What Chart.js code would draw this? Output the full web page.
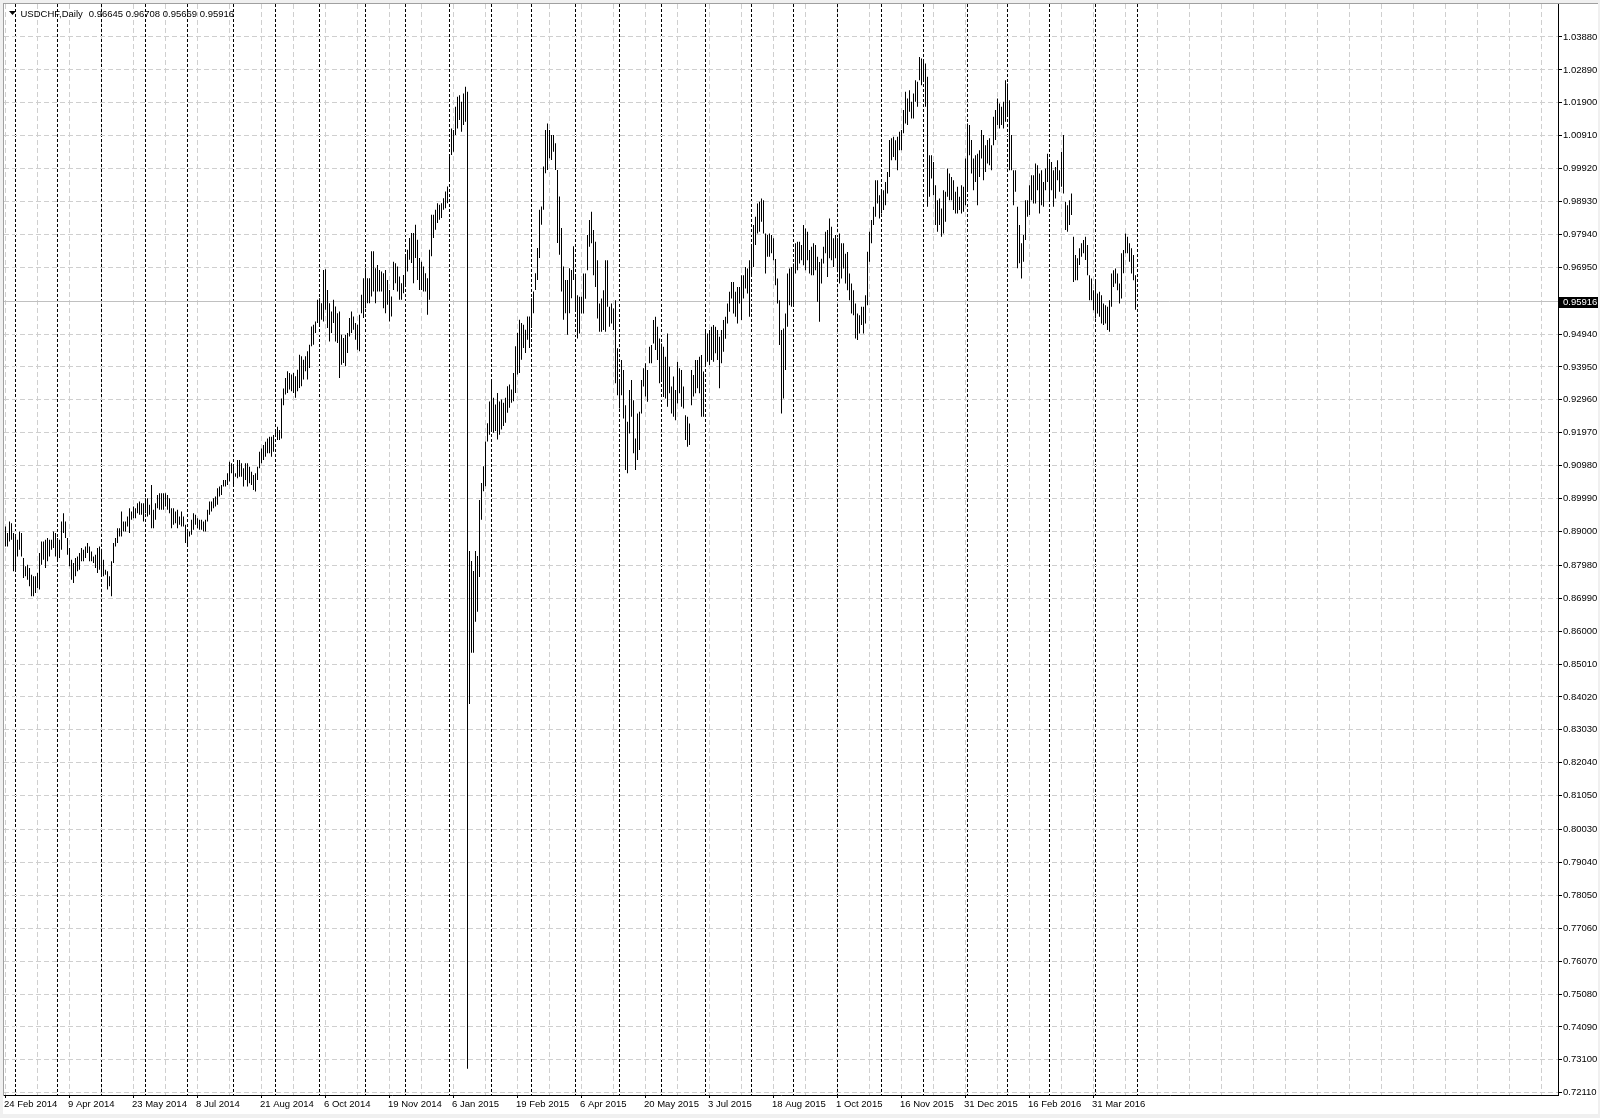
<!DOCTYPE html>
<html><head><meta charset="utf-8">
<script src="https://cdn.jsdelivr.net/npm/chart.js@4.4.1/dist/chart.umd.min.js"></script>
<style>html,body{margin:0;padding:0;background:#fff;overflow:hidden}canvas{display:block}</style>
</head><body>
<canvas id="c" width="1600" height="1118"></canvas>
<script>
const symbolTitle = "USDCHF,Daily";
const lastBarOHLC = [0.96645, 0.96708, 0.95669, 0.95916];
const dateLabels = ["24 Feb 2014","9 Apr 2014","23 May 2014","8 Jul 2014","21 Aug 2014","6 Oct 2014","19 Nov 2014","6 Jan 2015","19 Feb 2015","6 Apr 2015","20 May 2015","3 Jul 2015","18 Aug 2015","1 Oct 2015","16 Nov 2015","31 Dec 2015","16 Feb 2016","31 Mar 2016"];
const labelEvery = 32;
const gridEvery = 16;
const monthStarts = [5,26,48,70,91,114,135,157,180,200,222,243,263,285,307,328,350,373,394,416,438,459,481,501,522,545,566];
const yTickValues = [1.0388,1.0289,1.0190,1.0091,0.9992,0.9893,0.9794,0.9695,0.9494,0.9395,0.9296,0.9197,0.9098,0.8999,0.8900,0.8798,0.8699,0.8600,0.8501,0.8402,0.8303,0.8204,0.8105,0.8003,0.7904,0.7805,0.7706,0.7607,0.7508,0.7409,0.7310,0.7211];
const highs = [
0.8915,0.8895,0.8930,0.8925,0.8895,0.8885,0.8875,0.8900,0.8895,0.8820,
0.8795,0.8800,0.8790,0.8770,0.8765,0.8765,0.8775,0.8835,0.8870,0.8870,
0.8875,0.8880,0.8875,0.8875,0.8900,0.8895,0.8880,0.8875,0.8930,0.8955,
0.8930,0.8880,0.8850,0.8815,0.8805,0.8820,0.8825,0.8835,0.8850,0.8845,
0.8855,0.8865,0.8855,0.8840,0.8825,0.8830,0.8850,0.8855,0.8845,0.8815,
0.8785,0.8780,0.8765,0.8810,0.8865,0.8880,0.8910,0.8910,0.8960,0.8930,
0.8930,0.8945,0.8970,0.8960,0.8975,0.8970,0.8985,0.8990,0.8985,0.8985,
0.9000,0.9000,0.8980,0.9040,0.8965,0.8985,0.9010,0.9015,0.9015,0.9015,
0.9015,0.9010,0.9000,0.8970,0.8970,0.8960,0.8965,0.8945,0.8960,0.8945,
0.8920,0.8905,0.8900,0.8935,0.8955,0.8950,0.8940,0.8935,0.8935,0.8930,
0.8935,0.8965,0.8990,0.8990,0.9000,0.9005,0.9030,0.9035,0.9040,0.9055,
0.9055,0.9075,0.9110,0.9105,0.9095,0.9075,0.9115,0.9115,0.9105,0.9090,
0.9105,0.9105,0.9095,0.9080,0.9070,0.9075,0.9095,0.9140,0.9150,0.9160,
0.9170,0.9180,0.9185,0.9185,0.9190,0.9205,0.9215,0.9205,0.9300,0.9330,
0.9362,0.9382,0.9377,0.9372,0.9377,0.9367,0.9387,0.9432,0.9427,0.9417,
0.9427,0.9442,0.9462,0.9517,0.9522,0.9532,0.9597,0.9602,0.9587,0.9687,
0.9689,0.9627,0.9587,0.9562,0.9597,0.9577,0.9557,0.9562,0.9492,0.9482,
0.9492,0.9497,0.9542,0.9562,0.9547,0.9527,0.9522,0.9552,0.9612,0.9662,
0.9692,0.9662,0.9662,0.9743,0.9743,0.9692,0.9702,0.9687,0.9682,0.9677,
0.9687,0.9657,0.9627,0.9607,0.9712,0.9707,0.9697,0.9667,0.9647,0.9672,
0.9732,0.9748,0.9783,0.9798,0.9798,0.9823,0.9778,0.9723,0.9712,0.9697,
0.9677,0.9662,0.9748,0.9853,0.9853,0.9868,0.9888,0.9883,0.9888,0.9903,
0.9923,0.9938,1.0028,1.0113,1.0108,1.0178,1.0208,1.0213,1.0193,1.0218,
1.0238,1.0223,0.8841,0.8811,0.8781,0.8841,0.8826,0.8995,0.9046,0.9096,
0.9171,0.9226,0.9291,0.9352,0.9302,0.9282,0.9317,0.9291,0.9297,0.9287,
0.9302,0.9337,0.9342,0.9327,0.9377,0.9457,0.9497,0.9537,0.9527,0.9522,
0.9507,0.9547,0.9547,0.9602,0.9622,0.9677,0.9753,0.9868,0.9878,0.9998,
1.0108,1.0128,1.0108,1.0093,1.0093,1.0068,0.9988,0.9908,0.9813,0.9697,
0.9657,0.9657,0.9692,0.9687,0.9758,0.9671,0.9611,0.9606,0.9606,0.9676,
0.9676,0.9792,0.9837,0.9862,0.9807,0.9772,0.9716,0.9586,0.9601,0.9626,
0.9716,0.9716,0.9576,0.9586,0.9571,0.9596,0.9451,0.9356,0.9416,0.9386,
0.9280,0.9230,0.9326,0.9356,0.9295,0.9180,0.9255,0.9260,0.9356,0.9391,
0.9406,0.9386,0.9456,0.9461,0.9536,0.9546,0.9516,0.9481,0.9466,0.9456,
0.9426,0.9496,0.9396,0.9336,0.9366,0.9326,0.9411,0.9391,0.9386,0.9336,
0.9250,0.9245,0.9225,0.9386,0.9371,0.9416,0.9416,0.9426,0.9431,0.9381,
0.9506,0.9496,0.9506,0.9516,0.9521,0.9516,0.9506,0.9486,0.9506,0.9536,
0.9546,0.9586,0.9621,0.9651,0.9651,0.9621,0.9636,0.9636,0.9671,0.9671,
0.9696,0.9691,0.9716,0.9762,0.9822,0.9847,0.9887,0.9892,0.9902,0.9897,
0.9797,0.9792,0.9797,0.9792,0.9782,0.9720,0.9661,0.9596,0.9506,0.9511,
0.9556,0.9676,0.9691,0.9696,0.9706,0.9767,0.9772,0.9772,0.9762,0.9822,
0.9812,0.9802,0.9747,0.9757,0.9767,0.9762,0.9727,0.9711,0.9721,0.9757,
0.9802,0.9807,0.9842,0.9817,0.9782,0.9792,0.9782,0.9797,0.9767,0.9767,
0.9736,0.9741,0.9676,0.9646,0.9626,0.9586,0.9556,0.9551,0.9576,0.9576,
0.9611,0.9742,0.9802,0.9837,0.9877,0.9957,0.9957,0.9912,0.9927,0.9927,
0.9952,0.9982,1.0078,1.0083,1.0088,1.0077,1.0088,1.0103,1.0108,1.0168,
1.0223,1.0203,1.0228,1.0193,1.0218,1.0258,1.0253,1.0328,1.0323,1.0313,
1.0308,1.0268,1.0032,1.0032,1.0012,0.9942,0.9897,0.9902,0.9872,0.9927,
0.9922,0.9992,0.9977,0.9967,0.9957,0.9922,0.9937,0.9907,0.9942,0.9937,
1.0022,1.0128,1.0123,1.0078,1.0022,1.0032,1.0037,1.0047,1.0108,1.0093,
1.0062,1.0078,1.0083,1.0062,1.0148,1.0168,1.0203,1.0188,1.0178,1.0193,
1.0258,1.0248,1.0198,1.0093,0.9987,0.9987,0.9877,0.9822,0.9767,0.9792,
0.9897,0.9897,0.9942,0.9972,0.9972,1.0007,1.0002,0.9977,0.9987,0.9952,
0.9992,1.0037,1.0017,1.0012,0.9987,0.9997,1.0017,0.9987,1.0042,1.0093,
0.9892,0.9882,0.9897,0.9917,0.9787,0.9732,0.9722,0.9752,0.9767,0.9777,
0.9787,0.9762,0.9671,0.9661,0.9626,0.9651,0.9616,0.9621,0.9611,0.9586,
0.9581,0.9576,0.9596,0.9676,0.9686,0.9691,0.9676,0.9646,0.9737,0.9747,
0.9797,0.9787,0.9767,0.9752,0.9732,0.96708];
const lows = [
0.8855,0.8855,0.8870,0.8875,0.8780,0.8785,0.8825,0.8845,0.8825,0.8760,
0.8765,0.8755,0.8735,0.8705,0.8705,0.8715,0.8730,0.8725,0.8800,0.8815,
0.8790,0.8810,0.8825,0.8845,0.8850,0.8825,0.8815,0.8820,0.8845,0.8895,
0.8880,0.8830,0.8795,0.8755,0.8745,0.8765,0.8780,0.8785,0.8810,0.8810,
0.8820,0.8835,0.8810,0.8810,0.8805,0.8790,0.8775,0.8785,0.8770,0.8765,
0.8770,0.8725,0.8735,0.8705,0.8805,0.8855,0.8865,0.8885,0.8885,0.8900,
0.8900,0.8915,0.8895,0.8935,0.8940,0.8940,0.8955,0.8950,0.8950,0.8930,
0.8955,0.8945,0.8950,0.8910,0.8910,0.8935,0.8970,0.8965,0.8965,0.8965,
0.8975,0.8965,0.8955,0.8910,0.8920,0.8925,0.8910,0.8920,0.8915,0.8915,
0.8865,0.8855,0.8885,0.8890,0.8905,0.8920,0.8910,0.8905,0.8905,0.8900,
0.8900,0.8930,0.8950,0.8960,0.8970,0.8975,0.8980,0.9005,0.9010,0.9035,
0.9035,0.9040,0.9050,0.9075,0.9035,0.9065,0.9060,0.9065,0.9065,0.9035,
0.9055,0.9035,0.9045,0.9040,0.9025,0.9020,0.9055,0.9090,0.9105,0.9115,
0.9125,0.9135,0.9135,0.9125,0.9140,0.9185,0.9175,0.9175,0.9180,0.9280,
0.9312,0.9317,0.9327,0.9322,0.9317,0.9302,0.9322,0.9332,0.9337,0.9357,
0.9382,0.9357,0.9392,0.9457,0.9462,0.9497,0.9527,0.9522,0.9537,0.9532,
0.9567,0.9512,0.9472,0.9497,0.9527,0.9472,0.9467,0.9362,0.9402,0.9407,
0.9397,0.9437,0.9487,0.9497,0.9507,0.9477,0.9447,0.9442,0.9557,0.9542,
0.9572,0.9587,0.9587,0.9607,0.9622,0.9587,0.9622,0.9622,0.9622,0.9572,
0.9557,0.9582,0.9532,0.9547,0.9627,0.9647,0.9622,0.9597,0.9597,0.9617,
0.9642,0.9682,0.9718,0.9708,0.9647,0.9723,0.9657,0.9627,0.9627,0.9622,
0.9622,0.9552,0.9597,0.9728,0.9783,0.9808,0.9828,0.9838,0.9843,0.9868,
0.9873,0.9888,0.9958,1.0033,1.0043,1.0093,1.0113,1.0138,1.0103,1.0123,
1.0133,0.7283,0.8381,0.8535,0.8535,0.8628,0.8658,0.8763,0.8935,0.9021,
0.9036,0.9171,0.9191,0.9207,0.9197,0.9202,0.9177,0.9191,0.9207,0.9217,
0.9227,0.9257,0.9272,0.9287,0.9292,0.9317,0.9372,0.9377,0.9417,0.9452,
0.9437,0.9477,0.9452,0.9512,0.9557,0.9627,0.9657,0.9723,0.9823,0.9868,
0.9978,0.9988,1.0023,1.0018,1.0043,0.9988,0.9768,0.9733,0.9622,0.9537,
0.9557,0.9492,0.9557,0.9602,0.9657,0.9561,0.9481,0.9496,0.9556,0.9556,
0.9600,0.9686,0.9757,0.9767,0.9671,0.9636,0.9541,0.9501,0.9501,0.9506,
0.9501,0.9576,0.9516,0.9526,0.9506,0.9346,0.9310,0.9270,0.9310,0.9240,
0.9085,0.9075,0.9195,0.9245,0.9135,0.9085,0.9115,0.9145,0.9255,0.9336,
0.9306,0.9290,0.9406,0.9406,0.9466,0.9446,0.9416,0.9346,0.9351,0.9305,
0.9300,0.9275,0.9316,0.9255,0.9245,0.9235,0.9285,0.9316,0.9275,0.9270,
0.9175,0.9155,0.9160,0.9280,0.9306,0.9316,0.9331,0.9316,0.9245,0.9245,
0.9396,0.9411,0.9401,0.9416,0.9411,0.9436,0.9416,0.9331,0.9406,0.9441,
0.9480,0.9526,0.9561,0.9601,0.9556,0.9546,0.9526,0.9586,0.9536,0.9601,
0.9631,0.9616,0.9546,0.9666,0.9696,0.9762,0.9797,0.9802,0.9832,0.9797,
0.9676,0.9727,0.9727,0.9737,0.9716,0.9641,0.9586,0.9461,0.9255,0.9300,
0.9386,0.9516,0.9581,0.9576,0.9576,0.9676,0.9686,0.9706,0.9716,0.9701,
0.9686,0.9716,0.9676,0.9671,0.9671,0.9686,0.9591,0.9531,0.9646,0.9706,
0.9737,0.9666,0.9722,0.9716,0.9696,0.9722,0.9686,0.9646,0.9661,0.9691,
0.9646,0.9626,0.9596,0.9556,0.9551,0.9481,0.9476,0.9496,0.9521,0.9496,
0.9526,0.9581,0.9712,0.9767,0.9822,0.9847,0.9887,0.9842,0.9857,0.9867,
0.9882,0.9917,0.9967,1.0017,1.0027,1.0017,0.9987,1.0047,1.0047,1.0098,
1.0128,1.0123,1.0163,1.0143,1.0143,1.0193,1.0178,1.0258,1.0243,1.0253,
1.0178,0.9877,0.9907,0.9962,0.9912,0.9822,0.9802,0.9822,0.9787,0.9797,
0.9832,0.9907,0.9897,0.9897,0.9867,0.9857,0.9857,0.9867,0.9857,0.9862,
0.9882,0.9922,1.0032,0.9977,0.9927,0.9952,0.9882,0.9967,1.0022,0.9957,
0.9982,1.0007,1.0002,0.9987,1.0062,1.0078,1.0123,1.0113,1.0123,1.0113,
1.0133,1.0153,0.9987,0.9987,0.9882,0.9922,0.9692,0.9707,0.9661,0.9712,
0.9777,0.9847,0.9852,0.9897,0.9887,0.9887,0.9927,0.9857,0.9882,0.9877,
0.9927,0.9952,0.9897,0.9927,0.9877,0.9902,0.9957,0.9922,0.9937,0.9917,
0.9807,0.9802,0.9822,0.9852,0.9651,0.9656,0.9656,0.9702,0.9727,0.9737,
0.9717,0.9671,0.9596,0.9596,0.9566,0.9541,0.9556,0.9546,0.9526,0.9521,
0.9526,0.9506,0.9501,0.9576,0.9636,0.9646,0.9626,0.9586,0.9601,0.9677,
0.9737,0.9737,0.9712,0.9676,0.9656,0.95669];

const FONT_FAMILY = '"Liberation Sans", Arial, sans-serif';
const FONT_SIZE = 9.5;
const X_MIN = -0.75, X_MAX = 776.25;
const Y_MIN = 0.72041, Y_MAX = 1.04873;

const bars = highs.map((h, i) => ({x: i, y: [lows[i], h]}));
const lastClose = lastBarOHLC[3];

function resetPad(s) { s.paddingLeft = 0; s.paddingRight = 0; s.paddingTop = 0; s.paddingBottom = 0; }

const framePlugin = {
  id: 'frame',
  beforeDraw(chart) {
    const ctx = chart.ctx;
    ctx.save();
    ctx.fillStyle = '#f0f0f0';
    ctx.fillRect(0, 0, chart.width, chart.height);
    ctx.fillStyle = '#ffffff';
    ctx.fillRect(3, 3, 1595, 1111);
    ctx.fillStyle = '#a0a0a0';
    ctx.fillRect(3, 3, 1595, 1);
    ctx.fillRect(3, 3, 1, 1093);
    ctx.restore();
  },
  beforeDatasetsDraw(chart) {
    const {ctx, chartArea} = chart;
    const y = Math.round(chart.scales.y.getPixelForValue(lastClose) - 0.5) + 0.5;
    ctx.save();
    ctx.strokeStyle = '#c0c0c0';
    ctx.lineWidth = 1;
    ctx.beginPath();
    ctx.moveTo(chartArea.left, y);
    ctx.lineTo(chartArea.right, y);
    ctx.stroke();
    ctx.restore();
  },
  afterDraw(chart) {
    const {ctx, chartArea} = chart;
    ctx.save();
    ctx.font = FONT_SIZE + 'px ' + FONT_FAMILY;
    ctx.textBaseline = 'alphabetic';
    ctx.fillStyle = '#000';
    ctx.beginPath();
    ctx.moveTo(9, 11); ctx.lineTo(16, 11); ctx.lineTo(12.5, 15); ctx.closePath();
    ctx.fill();
    ctx.fillText(symbolTitle, 20.5, 16.5);
    const w = ctx.measureText(symbolTitle).width;
    ctx.fillText(lastBarOHLC.map(v => v.toFixed(5)).join(' '), 20.5 + w + 6, 16.5);
    const yp = chart.scales.y.getPixelForValue(lastClose);
    const yr = Math.round(yp);
    ctx.fillStyle = '#000';
    ctx.fillRect(chartArea.right + 1, yr - 5, 39, 11);
    ctx.fillStyle = '#fff';
    ctx.textBaseline = 'middle';
    ctx.fillText(lastClose.toFixed(5), chartArea.right + 5, yr + 0.5);
    ctx.restore();
  }
};

const tickFont = {family: FONT_FAMILY, size: FONT_SIZE};

new Chart(document.getElementById('c'), {
  type: 'bar',
  data: {
    datasets: [{
      data: bars,
      backgroundColor: '#000',
      borderWidth: 0,
      barThickness: 1,
      inflateAmount: 0,
      grouped: false,
      xAxisID: 'x',
      yAxisID: 'y'
    }]
  },
  options: {
    responsive: false,
    animation: false,
    devicePixelRatio: 1,
    events: [],
    layout: {padding: {left: 4, top: 4, right: 0, bottom: 0}},
    plugins: {legend: {display: false}, tooltip: {enabled: false}, title: {display: false}},
    scales: {
      x: {
        type: 'linear', position: 'bottom', min: X_MIN, max: X_MAX, offset: false,
        afterBuildTicks(s) {
          const t = [];
          for (let v = 0; v <= X_MAX; v += gridEvery) t.push({value: v});
          s.ticks = t;
        },
        afterFit(s) { s.height = 23; resetPad(s); },
        ticks: {
          autoSkip: false, maxRotation: 0, minRotation: 0, align: 'start', padding: 1, labelOffset: -1.5,
          color: '#000', font: tickFont,
          callback(v) {
            const k = v / labelEvery;
            return (Number.isInteger(k) && k < dateLabels.length) ? dateLabels[k] : '';
          }
        },
        grid: {
          color: '#cfcfcf', lineWidth: 1, offset: false, drawTicks: true, tickLength: 3,
          tickColor: c => (c.tick && c.tick.value % labelEvery === 0 && c.tick.value / labelEvery < dateLabels.length) ? '#000' : 'rgba(0,0,0,0)',
          tickBorderDash: []
        },
        border: {display: true, color: '#000', width: 1, dash: [5, 3]}
      },
      x2: {
        type: 'linear', position: 'top', min: X_MIN, max: X_MAX, offset: false,
        afterBuildTicks(s) { s.ticks = monthStarts.map(v => ({value: v})); },
        afterFit(s) { s.height = 0; resetPad(s); },
        ticks: {display: false},
        grid: {color: '#000', lineWidth: 1, offset: false, drawTicks: false},
        border: {display: false, dash: [3, 2]}
      },
      y: {
        type: 'linear', position: 'right', min: Y_MIN, max: Y_MAX,
        afterBuildTicks(s) { s.ticks = yTickValues.map(v => ({value: v})); },
        afterFit(s) { s.width = 42; resetPad(s); },
        ticks: {
          color: '#000', font: tickFont, padding: 1, autoSkip: false,
          callback: v => v.toFixed(5)
        },
        grid: {color: '#cfcfcf', lineWidth: 1, drawTicks: true, tickLength: 4, tickColor: '#000', tickBorderDash: []},
        border: {display: true, color: '#000', width: 1, dash: [5, 3]}
      }
    }
  },
  plugins: [framePlugin]
});
</script>
</body></html>
